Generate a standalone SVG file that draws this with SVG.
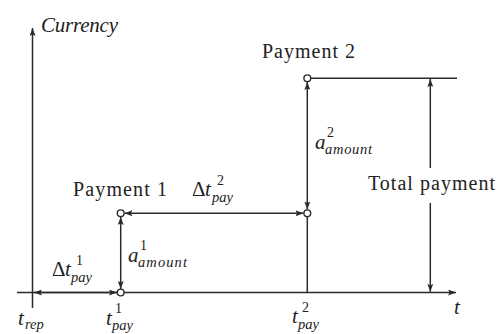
<svg xmlns="http://www.w3.org/2000/svg" width="499" height="334" viewBox="0 0 499 334">
  <style>
    .ln { stroke: #2a2a2a; stroke-width: 1.5; fill: none; }
    .dbl { marker-start: url(#ah); marker-end: url(#ah); }
    .one { marker-end: url(#ah); }
    .pt { fill: #ffffff; stroke: #2a2a2a; stroke-width: 1.4; }
    .lbl { font-family: "Liberation Serif", "Times New Roman", serif; font-size: 20px; fill: #222222; }
    .m { font-family: "Liberation Serif", "Times New Roman", serif; font-style: italic; font-size: 21px; fill: #222222; }
    .up { font-family: "Liberation Serif", "Times New Roman", serif; font-size: 21px; fill: #222222; }
    .s { font-family: "Liberation Serif", "Times New Roman", serif; font-style: italic; font-size: 14.5px; fill: #222222; }
    .sn { font-family: "Liberation Serif", "Times New Roman", serif; font-size: 14px; fill: #222222; }
  </style>
  <defs>
    <marker id="ah" viewBox="0 0 8 6" markerWidth="8" markerHeight="6" refX="8" refY="3" orient="auto-start-reverse" markerUnits="userSpaceOnUse">
      <path d="M0,0 L8,3 L0,6 L1.6,3 z" fill="#2a2a2a"/>
    </marker>
  </defs>

  <g id="connectors">
    <line class="ln one" x1="32.5" y1="308" x2="32.5" y2="28"/>
    <line class="ln one" x1="17" y1="292.5" x2="456" y2="292.5"/>
    <line class="ln dbl" x1="34" y1="292.5" x2="117" y2="292.5"/>
    <line class="ln dbl" x1="120.7" y1="217" x2="120.7" y2="289"/>
    <line class="ln dbl" x1="124.5" y1="213.3" x2="303.5" y2="213.3"/>
    <line class="ln dbl" x1="307.3" y1="82" x2="307.3" y2="209.5"/>
    <line class="ln" x1="307.3" y1="216.8" x2="307.3" y2="292.5"/>
    <line class="ln" x1="310.8" y1="78.3" x2="457" y2="78.3"/>
    <line class="ln one" x1="430.3" y1="168" x2="430.3" y2="79"/>
    <line class="ln one" x1="430.3" y1="203" x2="430.3" y2="291.8"/>
  </g>

  <g id="axis-y-label">
    <text class="m" x="41" y="32" font-size="20" textLength="77">Currency</text>
  </g>
  <g id="axis-x-label">
    <text class="m" x="454" y="314">t</text>
  </g>

  <g id="t-rep">
    <text class="m" x="18" y="325">t</text>
    <text class="s" x="25" y="329">rep</text>
  </g>

  <g id="payment-1">
    <circle class="pt" cx="120.7" cy="213.3" r="3.4"/>
    <circle class="pt" cx="120.7" cy="292.5" r="3.4"/>
    <text class="lbl" x="73" y="196" textLength="94">Payment 1</text>
    <text class="m" x="106" y="325">t</text>
    <text class="sn" x="115" y="313">1</text>
    <text class="s" x="112" y="330">pay</text>
  </g>

  <g id="payment-2">
    <circle class="pt" cx="307.3" cy="78.3" r="3.4"/>
    <circle class="pt" cx="307.3" cy="213.3" r="3.4"/>
    <text class="lbl" x="262" y="58" textLength="93">Payment 2</text>
    <text class="m" x="292" y="323">t</text>
    <text class="sn" x="302" y="312">2</text>
    <text class="s" x="298" y="329">pay</text>
  </g>

  <g id="delta-t1">
    <text class="up" x="52" y="276">Δ</text>
    <text class="m" x="65" y="276">t</text>
    <text class="sn" x="76" y="265">1</text>
    <text class="s" x="71" y="282">pay</text>
  </g>

  <g id="delta-t2">
    <text class="up" x="192" y="196">Δ</text>
    <text class="m" x="205" y="196">t</text>
    <text class="sn" x="217" y="185">2</text>
    <text class="s" x="212" y="202">pay</text>
  </g>

  <g id="a-amount-1">
    <text class="m" x="128" y="262">a</text>
    <text class="sn" x="140" y="250">1</text>
    <text class="s" x="138" y="267" textLength="49">amount</text>
  </g>

  <g id="a-amount-2">
    <text class="m" x="315" y="149">a</text>
    <text class="sn" x="327" y="137">2</text>
    <text class="s" x="325" y="154" textLength="47">amount</text>
  </g>

  <g id="total-payment">
    <text class="lbl" x="368" y="190" textLength="127">Total payment</text>
  </g>
</svg>
